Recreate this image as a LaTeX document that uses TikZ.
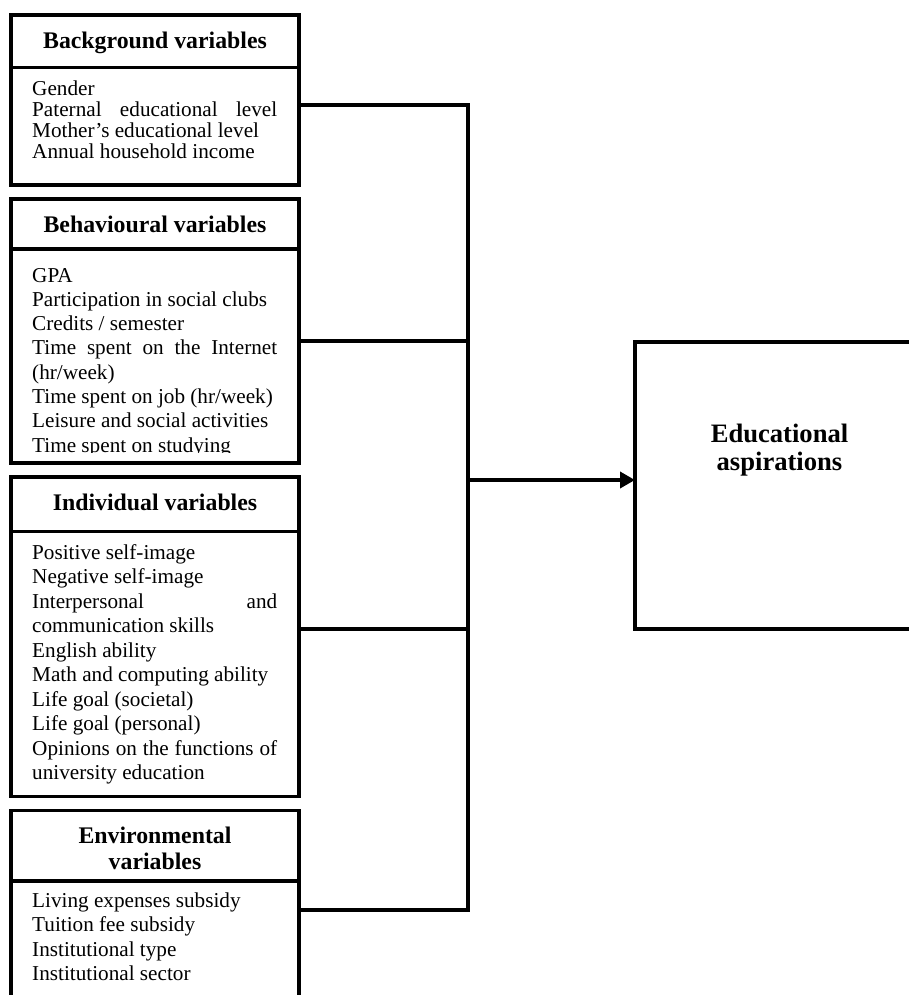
\documentclass[tikz,border=0pt]{standalone}
\usepackage{fontspec}
\setmainfont{Liberation Serif}
\usetikzlibrary{arrows.meta}
\begin{document}
\begin{tikzpicture}[x=1pt,y=-1pt,
  vbox/.style={draw, line width=3.6pt, rectangle, anchor=north west, inner sep=0pt, outer sep=0pt, minimum width=288pt},
  link/.style={line width=3.6pt},
  hdr/.style={anchor=base, inner sep=0pt, font=\fontsize{23.8}{26.6}\selectfont\bfseries},
  body/.style={anchor=base west, inner sep=0pt}]
\useasboundingbox (0,0) rectangle (909,995);
\fill[white] (0,0) rectangle (909,995);
\begin{scope}
\clip (0,0) rectangle (909,995);
% boxes
\node[vbox, minimum height=52.5pt] (b1h) at (11,15) {};
\node[vbox, minimum height=117.5pt] (b1c) at (11,67.5) {};
\node[vbox, minimum height=50pt] (b2h) at (11,199) {};
\node[vbox, minimum height=214pt] (b2c) at (11,249) {};
\node[vbox, minimum height=54.5pt] (b3h) at (11,477) {};
\node[vbox, minimum height=265pt] (b3c) at (11,531.5) {};
\node[vbox, minimum height=70.5pt] (b4h) at (11,810.5) {};
\node[vbox, minimum height=140pt] (b4c) at (11,881) {};
\node[vbox, minimum width=400pt, minimum height=287pt] (rb) at (635,342) {};
% headers
\node[hdr] (t1h) at (155,49) {Background variables};
\node[hdr] (t2h) at (155,232) {Behavioural variables};
\node[hdr] (t3h) at (155,510.5) {Individual variables};
\node[hdr] (t4h) at (155,843) {\parbox[t]{260pt}{\centering\fontsize{23.8}{26.6}\selectfont\bfseries Environmental\\variables}};
% body texts
\node[body] (t1c) at (32,96) {\parbox[t]{245pt}{\fontsize{21.2}{21}\selectfont
Gender\\
\makebox[\linewidth][s]{Paternal educational level}\\
Mother’s educational level\\
Annual household income}};
\begin{scope}
\clip (11,249) rectangle (299,452.5);
\node[body] (t2c) at (32,282) {\parbox[t]{245pt}{\fontsize{21.2}{24.3}\selectfont
GPA\\
Participation in social clubs\\
Credits / semester\\
\makebox[\linewidth][s]{Time spent on the Internet}\\
(hr/week)\\
Time spent on job (hr/week)\\
Leisure and social activities\\
Time spent on studying}};
\end{scope}
\node[body] (t3c) at (32,559) {\parbox[t]{245pt}{\fontsize{21.2}{24.55}\selectfont
Positive self-image\\
Negative self-image\\
\makebox[\linewidth][s]{Interpersonal and}\\
communication skills\\
English ability\\
Math and computing ability\\
Life goal (societal)\\
Life goal (personal)\\
\makebox[\linewidth][s]{Opinions on the functions of}\\
university education}};
\node[body] (t4c) at (32,907) {\parbox[t]{245pt}{\fontsize{21.2}{24.6}\selectfont
Living expenses subsidy\\
Tuition fee subsidy\\
Institutional type\\
Institutional sector}};
\node[anchor=base, inner sep=0pt] (et) at (779.5,442) {\parbox[t]{220pt}{\centering\fontsize{26.6}{28.8}\selectfont\bfseries Educational\\aspirations}};
% connectors
\coordinate (c1) at (468,105);
\coordinate (c2) at (468,341);
\coordinate (c3) at (468,629);
\coordinate (c4) at (468,910);
\coordinate (arr) at (468,480);
\draw[link] (c1 -| b1c.east) -- (c1) -- (c4) -- (c4 -| b4c.east);
\draw[link] (c2 -| b2c.east) -- (c2);
\draw[link] (c3 -| b3c.east) -- (c3);
\draw[link, -{Triangle[length=15pt,width=16pt]}] (arr) -- (arr -| rb.west);
\end{scope}
\end{tikzpicture}
\end{document}
